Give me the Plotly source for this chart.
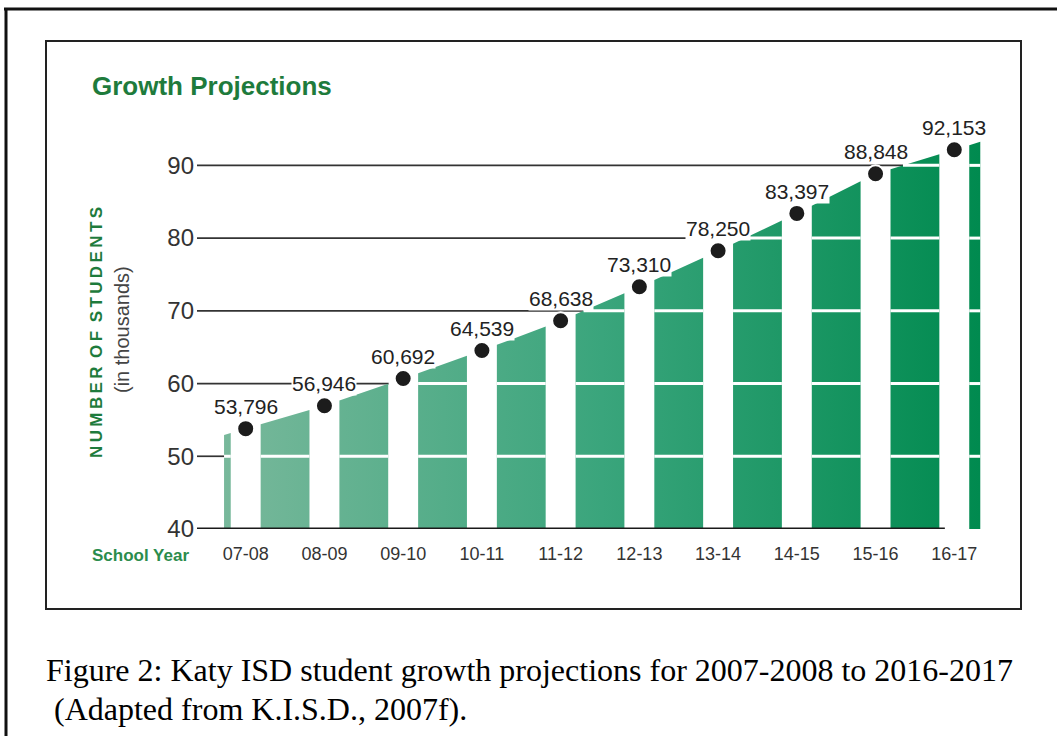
import numpy as np
import plotly.graph_objects as go

# ---------------- data ----------------
years = ["07-08", "08-09", "09-10", "10-11", "11-12",
         "12-13", "13-14", "14-15", "15-16", "16-17"]
students = [53796, 56946, 60692, 64539, 68638,
            73310, 78250, 83397, 88848, 92153]
y_ticks = [40, 50, 60, 70, 80, 90]
title_text = "Growth Projections"
y_title = "NUMBER OF STUDENTS"
y_subtitle = "(in thousands)"
x_title = "School Year"
caption_1 = "Figure 2: Katy ISD student growth projections for 2007-2008 to 2016-2017"
caption_2 = "(Adapted from K.I.S.D., 2007f)."

# ---------------- layout constants ----------------
W, H = 1057, 736
ML, MR, MT, MB = 197, 72, 129, 207
PW, PH = W - ML - MR, H - MT - MB
X_RANGE = [-0.6186, 9.39]
Y_RANGE = [40, 95]
BAR_HW = 0.19          # half width of the white gaps at each year
AREA_X0, AREA_X1 = -0.275, 9.33
BASE_X1 = 8.88
GREEN_DARK = "#1e7b3c"
GREEN_MID = "#2b8c4c"
FONT = "Liberation Sans, Arial, Helvetica, sans-serif"
SERIF = "Liberation Serif, Times New Roman, serif"


def px(x):
    return (x - ML) / PW


def py(y):
    return (H - MB - y) / PH


vals = np.array(students, dtype=float) / 1000.0
n = len(vals)
idx = np.arange(n)


def top(x):
    if x <= 0:
        return vals[0] + (vals[1] - vals[0]) * x
    if x >= n - 1:
        return vals[-1] + (vals[-1] - vals[-2]) * (x - (n - 1))
    return float(np.interp(x, idx, vals))


# green area segments between the white gaps
segs = [(AREA_X0, -BAR_HW)] + [(i + BAR_HW, i + 1 - BAR_HW) for i in range(n - 1)] \
       + [(n - 1 + BAR_HW, AREA_X1)]
ax, ay = [], []
for a, b in segs:
    ax += [a, a, b, b, None]
    ay += [Y_RANGE[0], top(a), top(b), Y_RANGE[0], None]

fig = go.Figure()
fig.add_trace(go.Scatter(
    x=ax, y=ay, mode="lines", fill="toself", line=dict(width=0),
    fillgradient=dict(type="horizontal",
                      colorscale=[[0, "#78b89b"], [0.5, "#3aa57c"], [1, "#008a4f"]]),
    hoverinfo="skip", showlegend=False))

fig.add_trace(go.Scatter(
    x=idx, y=vals, mode="markers",
    marker=dict(size=17, color="#1c1c1c", line=dict(color="white", width=2)),
    cliponaxis=False, showlegend=False, hoverinfo="skip"))

shapes = []
# black grid lines up to where the area reaches them
breaks = [AREA_X0] + list(idx) + [AREA_X1]
for g in y_ticks[1:]:
    xe = None
    for p0, p1 in zip(breaks[:-1], breaks[1:]):
        t0, t1 = top(p0), top(p1)
        if t0 >= g:
            xe = p0
            break
        if t1 >= g:
            xe = p0 + (g - t0) / (t1 - t0) * (p1 - p0)
            break
    if xe is None:
        xe = X_RANGE[1]
    shapes.append(dict(type="line", layer="below", x0=X_RANGE[0], x1=xe, y0=g, y1=g,
                       line=dict(color="#333333", width=1.7)))
# white grid lines inside the green area
for a, b in segs:
    ta, tb = top(a), top(b)
    for g in y_ticks[1:]:
        if tb <= g:
            continue
        xs = a if ta >= g else a + (g - ta) / (tb - ta) * (b - a)
        shapes.append(dict(type="line", layer="above", x0=xs, x1=b, y0=g, y1=g,
                           line=dict(color="white", width=3)))
# baseline
shapes.append(dict(type="line", layer="above", x0=X_RANGE[0], x1=BASE_X1,
                   y0=Y_RANGE[0], y1=Y_RANGE[0], line=dict(color="#1a1a1a", width=3)))
# inner frame
shapes.append(dict(type="rect", xref="paper", yref="paper",
                   x0=px(46), x1=px(1021), y0=py(609), y1=py(41),
                   line=dict(color="#222222", width=2)))
# outer frame (top and left)
shapes.append(dict(type="line", xref="paper", yref="paper",
                   x0=px(4), x1=px(1060), y0=py(9), y1=py(9),
                   line=dict(color="#111111", width=3)))
shapes.append(dict(type="line", xref="paper", yref="paper",
                   x0=px(6), x1=px(6), y0=py(8), y1=py(740),
                   line=dict(color="#111111", width=3)))

annotations = []
for i, v in enumerate(vals):
    annotations.append(dict(x=i, y=v, text=f"{students[i]:,}", showarrow=False,
                            xanchor="center", yanchor="middle",
                            yshift=22, font=dict(family=FONT, size=21, color="#222222"),
                            bgcolor="white", borderpad=0))
annotations.append(dict(xref="paper", yref="paper", x=px(90), y=py(86),
                        xanchor="left", yanchor="middle", showarrow=False,
                        text=f"<b>{title_text}</b>",
                        font=dict(family=FONT, size=26, color=GREEN_DARK)))
spaced = "\u2002".join("\u2009".join(list(w)) for w in y_title.split(" "))
annotations.append(dict(xref="paper", yref="paper", x=px(96), y=py(333),
                        xanchor="center", yanchor="middle",
                        textangle=-90, showarrow=False, text=f"<b>{spaced}</b>",
                        font=dict(family=FONT, size=17, color=GREEN_DARK)))
annotations.append(dict(xref="paper", yref="paper", x=px(122), y=py(330),
                        xanchor="center", yanchor="middle",
                        textangle=-90, showarrow=False, text=y_subtitle,
                        font=dict(family=FONT, size=20, color="#444444")))
annotations.append(dict(xref="paper", yref="paper", x=px(191), y=py(555),
                        xanchor="right", yanchor="middle", showarrow=False,
                        text=f"<b>{x_title}</b>",
                        font=dict(family=FONT, size=17, color=GREEN_MID)))
annotations.append(dict(xref="paper", yref="paper", x=px(44), y=py(670),
                        xanchor="left", yanchor="middle", showarrow=False,
                        text=caption_1, font=dict(family=SERIF, size=32, color="#000000")))
annotations.append(dict(xref="paper", yref="paper", x=px(52), y=py(709),
                        xanchor="left", yanchor="middle", showarrow=False,
                        text=caption_2, font=dict(family=SERIF, size=32, color="#000000")))

fig.update_layout(
    width=W, height=H, margin=dict(l=ML, r=MR, t=MT, b=MB, autoexpand=False),
    paper_bgcolor="white", plot_bgcolor="white", showlegend=False,
    shapes=shapes, annotations=annotations,
    xaxis=dict(range=X_RANGE, tickvals=list(idx), ticktext=years, showgrid=False,
               zeroline=False, showline=False, ticks="", ticklabelstandoff=12,
               tickfont=dict(family=FONT, size=18, color="#333333")),
    yaxis=dict(range=Y_RANGE, tickvals=y_ticks, showgrid=False, zeroline=False,
               showline=False, ticks="", ticklabelstandoff=2,
               tickfont=dict(family=FONT, size=24, color="#333333")),
)

fig.write_html("out.html")
